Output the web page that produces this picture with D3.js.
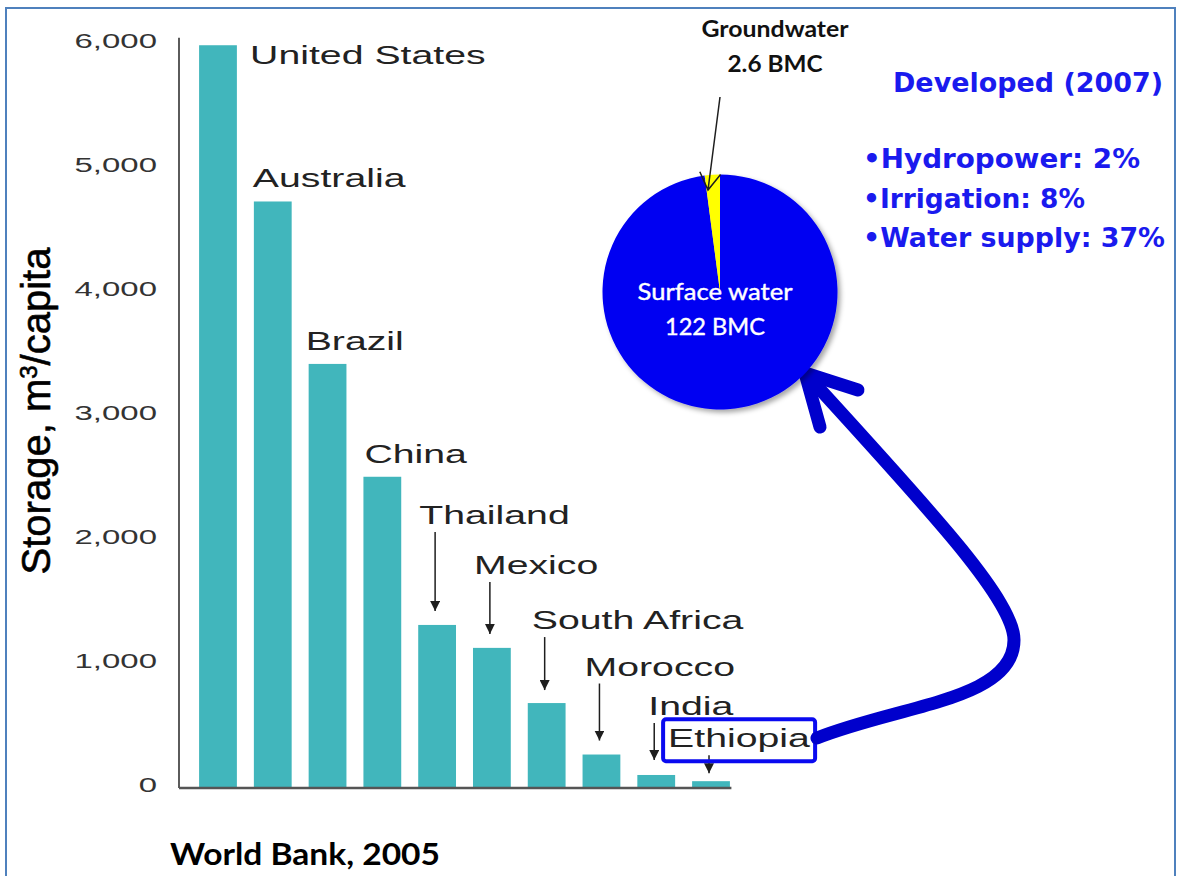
<!DOCTYPE html>
<html>
<head>
<meta charset="utf-8">
<script src="https://cdn.jsdelivr.net/npm/d3@7"></script>
<style>
  html, body { margin: 0; padding: 0; background: #fff; }
  svg { display: block; }
</style>
</head>
<body>
<svg id="chart" width="1177" height="876"></svg>
<script>
// ---- data ----
const countries = ["United States", "Australia", "Brazil", "China", "Thailand",
                   "Mexico", "South Africa", "Morocco", "India", "Ethiopia"];
const storage = [5990, 4730, 3420, 2510, 1315, 1130, 685, 270, 105, 55]; // m3 per capita
const yTickValues = [0, 1000, 2000, 3000, 4000, 5000, 6000];

const sourceTypes = ["Surface water", "Groundwater"];
const sourceVolumes = [122, 2.6]; // BMC

const useNames = ["Hydropower", "Irrigation", "Water supply"];
const useShares = [2, 8, 37]; // percent developed

// ---- country label placement (px, relative to bar left / bar top) ----
const labelDx   = [51, -1, -3, 1, 1, 1, 4, 2, 11, -24];
const labelLift = [-19, 14, 14, 14, 101, 74, 74, 79, 60, 34];
const arrowGap  = [0, 0, 0, 0, 14, 14, 13, 14, 15, 8]; // 0 = no pointer

const svg = d3.select("#chart");
const STRETCH = 1.57; // wide lettering of the bar chart

const defs = svg.append("defs");
defs.append("marker")
  .attr("id", "tri")
  .attr("viewBox", "0 0 10 10")
  .attr("refX", 10).attr("refY", 5)
  .attr("markerWidth", 10).attr("markerHeight", 10)
  .attr("markerUnits", "userSpaceOnUse")
  .attr("orient", "auto")
  .append("path").attr("d", "M0,0 L10,5 L0,10 Z").attr("fill", "#1e1e1e");

const shadow = defs.append("filter").attr("id", "pieShadow")
  .attr("x", "-20%").attr("y", "-20%").attr("width", "140%").attr("height", "140%");
shadow.append("feDropShadow")
  .attr("dx", 3).attr("dy", 3).attr("stdDeviation", 2.5)
  .attr("flood-color", "#000").attr("flood-opacity", 0.35);

// ---- slide frame ----
const frame = svg.append("g").attr("stroke", "#4f81bd").attr("stroke-width", 2).attr("fill", "none");
frame.append("path").attr("d", "M6,876 L6,8 L1175,8 L1175,876");

// ---- bar chart ----
const x = d3.scaleBand()
  .domain(countries)
  .range([190.6, 738.4])
  .paddingInner(0.31)
  .paddingOuter(0.155);

const y = d3.scaleLinear().domain([0, 6000]).range([788, 44]);

const yAxis = svg.append("g")
  .attr("transform", "translate(179,0)")
  .call(d3.axisLeft(y).tickValues(yTickValues).tickFormat(d3.format(",")).tickSize(0));
yAxis.select(".domain").remove();
yAxis.selectAll("text")
  .attr("x", null).attr("dy", "0.32em")
  .attr("transform", `translate(-22,-3) scale(${STRETCH},1)`)
  .attr("text-anchor", "end")
  .style("font-family", "'Liberation Sans', Arial, sans-serif")
  .style("font-size", "21px")
  .attr("fill", "#333");

svg.append("line")
  .attr("x1", 179).attr("x2", 179)
  .attr("y1", y(0)).attr("y2", y(6050))
  .attr("stroke", "#333").attr("stroke-width", 1.6);

svg.append("g").selectAll("rect")
  .data(countries)
  .join("rect")
  .attr("x", d => x(d))
  .attr("y", (d, i) => y(storage[i]))
  .attr("width", x.bandwidth())
  .attr("height", (d, i) => y(0) - y(storage[i]))
  .attr("fill", "#41b6bc");

svg.append("line")
  .attr("x1", 179).attr("x2", x.range()[1] - 7)
  .attr("y1", y(0)).attr("y2", y(0))
  .attr("stroke", "#555").attr("stroke-width", 2.5);

// country names
svg.append("g").selectAll("text")
  .data(countries)
  .join("text")
  .attr("transform", (d, i) =>
    `translate(${x(d) + labelDx[i]},${y(storage[i]) - labelLift[i]}) scale(${STRETCH},1)`)
  .style("font-family", "'Liberation Sans', Arial, sans-serif")
  .style("font-size", "25px")
  .attr("fill", "#222")
  .text(d => d);

// pointer arrows for the short bars
svg.append("g").selectAll("line")
  .data(countries.filter((d, i) => arrowGap[i] > 0))
  .join("line")
  .each(function (d) {
    const i = countries.indexOf(d);
    const cx = x(d) + x.bandwidth() / 2 - 2;
    d3.select(this)
      .attr("x1", cx).attr("x2", cx)
      .attr("y1", y(storage[i]) - labelLift[i] + 8)
      .attr("y2", y(storage[i]) - arrowGap[i]);
  })
  .attr("stroke", "#1e1e1e").attr("stroke-width", 1.5)
  .attr("marker-end", "url(#tri)");

// axis title
const yTitle = svg.append("text")
  .attr("transform", "translate(50,411) rotate(-90)")
  .attr("text-anchor", "middle")
  .style("font-family", "'Liberation Sans', Arial, sans-serif")
  .style("font-size", "40px")
  .attr("fill", "#000")
  .attr("stroke", "#000").attr("stroke-width", 0.6);
yTitle.append("tspan").text("Storage, m");
yTitle.append("tspan").attr("baseline-shift", "super").style("font-size", "24px").text("3");
yTitle.append("tspan").text("/capita");

// source note
svg.append("text")
  .attr("x", 170).attr("y", 865)
  .attr("textLength", 270).attr("lengthAdjust", "spacingAndGlyphs")
  .style("font-family", "Lato, 'Open Sans', sans-serif")
  .style("font-weight", 700)
  .style("font-size", "30px")
  .attr("fill", "#000")
  .text("World Bank, 2005");

// ---- Ethiopia highlight box and link arrow ----
const ethIdx = countries.indexOf("Ethiopia");
const ethX = x("Ethiopia") + labelDx[ethIdx];
const ethY = y(storage[ethIdx]) - labelLift[ethIdx];
svg.append("rect")
  .attr("x", ethX - 5).attr("y", ethY - 28)
  .attr("width", 152).attr("height", 42)
  .attr("rx", 3)
  .attr("fill", "none")
  .attr("stroke", "#0a0af0").attr("stroke-width", 4);

svg.append("path")
  .attr("d", "M817,738 C900,705 1014,700 1014,640 C1014,600 930,510 805,373")
  .attr("fill", "none")
  .attr("stroke", "#0000cc").attr("stroke-width", 13)
  .attr("stroke-linecap", "round");
svg.append("path")
  .attr("d", "M858,390 L805,373 L820,427")
  .attr("fill", "none")
  .attr("stroke", "#0000cc").attr("stroke-width", 13)
  .attr("stroke-linecap", "round").attr("stroke-linejoin", "round");

// ---- Ethiopia storage pie ----
const pieC = [720, 292], pieR = 117.5;
const pie = d3.pie().sort(null).value(d => d)(sourceVolumes);
const arc = d3.arc().innerRadius(0).outerRadius(pieR);
const pieColors = ["#0000f2", "#ffff00"];

svg.append("g")
  .attr("transform", `translate(${pieC[0]},${pieC[1]})`)
  .attr("filter", "url(#pieShadow)")
  .selectAll("path")
  .data(pie)
  .join("path")
  .attr("d", arc)
  .attr("fill", (d, i) => pieColors[i]);

const inner = svg.append("g")
  .attr("text-anchor", "middle")
  .style("font-family", "Lato, 'Open Sans', sans-serif")
  .style("font-size", "24px")
  .attr("fill", "#fff")
  .attr("stroke", "#fff").attr("stroke-width", 0.4);
inner.append("text").attr("x", 715).attr("y", 300)
  .attr("textLength", 155).attr("lengthAdjust", "spacingAndGlyphs")
  .text(sourceTypes[0]);
inner.append("text").attr("x", 715).attr("y", 335)
  .attr("textLength", 100).attr("lengthAdjust", "spacingAndGlyphs")
  .text(`${sourceVolumes[0]} BMC`);

const gw = svg.append("g")
  .attr("text-anchor", "middle")
  .style("font-family", "Lato, 'Open Sans', sans-serif")
  .style("font-weight", 700)
  .style("font-size", "23px")
  .attr("fill", "#111");
gw.append("text").attr("x", 775).attr("y", 37)
  .attr("textLength", 147).attr("lengthAdjust", "spacingAndGlyphs")
  .text(sourceTypes[1]);
gw.append("text").attr("x", 775).attr("y", 72)
  .attr("textLength", 95).attr("lengthAdjust", "spacingAndGlyphs")
  .text(`${sourceVolumes[1]} BMC`);

// pointer to the groundwater slice
const gwStart = [720, 97], gwTip = [708, 190];
const ang = Math.atan2(gwTip[1] - gwStart[1], gwTip[0] - gwStart[0]);
const head = 20, spread = 0.55;
const armA = [gwTip[0] - head * Math.cos(ang - spread), gwTip[1] - head * Math.sin(ang - spread)];
const armB = [gwTip[0] - head * Math.cos(ang + spread), gwTip[1] - head * Math.sin(ang + spread)];
svg.append("path")
  .attr("d", `M${gwStart} L${gwTip} M${armA} L${gwTip} L${armB}`)
  .attr("fill", "none")
  .attr("stroke", "#1e1e1e").attr("stroke-width", 1.5);

// ---- developed shares ----
const dev = svg.append("g")
  .style("font-family", "'DejaVu Sans', Verdana, sans-serif")
  .style("font-weight", 700)
  .attr("fill", "#1a1aee");
dev.append("text").attr("x", 893).attr("y", 92)
  .style("font-size", "26px")
  .attr("textLength", 270).attr("lengthAdjust", "spacingAndGlyphs")
  .text("Developed (2007)");
const useLens = [277, 222, 302];
dev.selectAll("text.use")
  .data(useNames)
  .join("text")
  .attr("class", "use")
  .attr("x", 863)
  .attr("y", (d, i) => 168 + i * 39.5)
  .style("font-size", "27px")
  .attr("textLength", (d, i) => useLens[i]).attr("lengthAdjust", "spacingAndGlyphs")
  .text((d, i) => `\u2022${d}: ${useShares[i]}%`);
</script>
</body>
</html>
